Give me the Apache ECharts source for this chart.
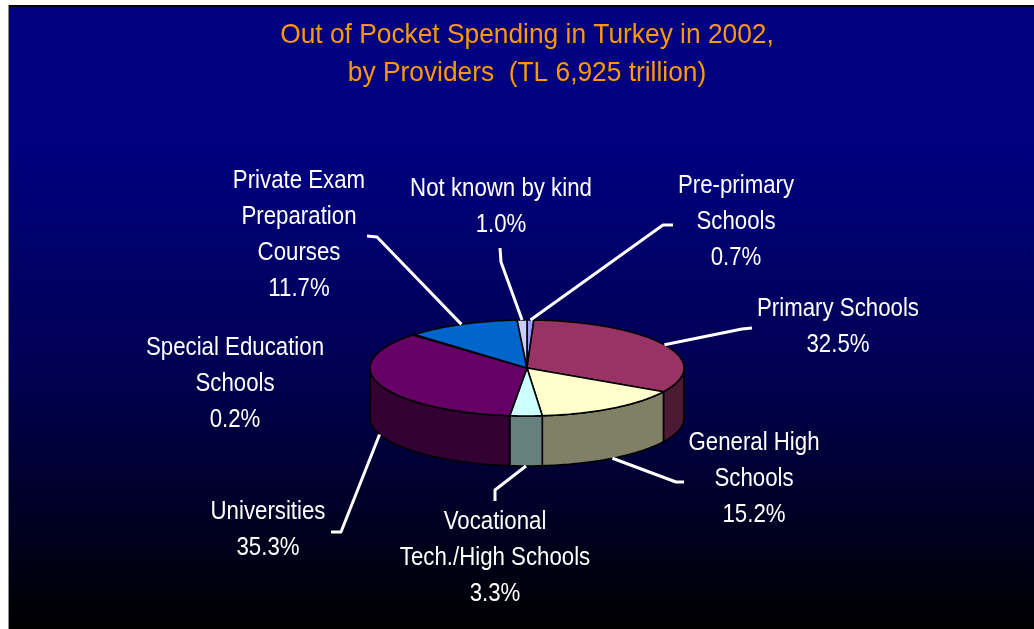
<!DOCTYPE html>
<html>
<head>
<meta charset="utf-8">
<script src="https://cdn.jsdelivr.net/npm/echarts@6/dist/echarts.min.js"></script>
<style>
  html, body { margin: 0; padding: 0; background: #ffffff; }
  #chart { position: absolute; left: 0; top: 0; width: 1034px; height: 629px; }
</style>
</head>
<body>
<div id="chart"></div>
<script>
// Out-of-pocket education spending by provider, Turkey 2002 (shares, %)
const providers = [
  'Pre-primary Schools',
  'Primary Schools',
  'General High Schools',
  'Vocational Tech./High Schools',
  'Universities',
  'Special Education Schools',
  'Private Exam Preparation Courses',
  'Not known by kind'
];
const shares = [0.7, 32.5, 15.2, 3.3, 35.3, 0.2, 11.7, 1.0];
const labelLines = [
  ['Pre-primary', 'Schools'],
  ['Primary Schools'],
  ['General High', 'Schools'],
  ['Vocational', 'Tech./High Schools'],
  ['Universities'],
  ['Special Education', 'Schools'],
  ['Private Exam', 'Preparation', 'Courses'],
  ['Not known by kind']
];
const titleLines = ['Out of Pocket Spending in Turkey in 2002,', 'by Providers  (TL 6,925 trillion)'];

// slice styling: top face colour, side wall colour
const sliceStyle = [
  { top: '#9999FF', side: '#4D4D80' },
  { top: '#993366', side: '#4D1A33' },
  { top: '#FFFFCC', side: '#808066' },
  { top: '#CCFFFF', side: '#668080' },
  { top: '#660066', side: '#330033' },
  { top: '#FF8080', side: '#804040' },
  { top: '#0066CC', side: '#003366' },
  { top: '#CCCCFF', side: '#666680' }
];

// label placement: centre of the text block and the elbow of the leader line
const labelLayout = [
  { x: 736, y: 222, leader: [[673, 225], [663, 225]] },
  { x: 838, y: 327, leader: [[752, 328], [742, 329]] },
  { x: 754, y: 479, leader: [[684, 482], [676, 482]] },
  { x: 495, y: 558, leader: [[495, 501], [495, 490]] },
  { x: 268, y: 530, leader: [[331, 532], [341, 532]] },
  { x: 235, y: 384, leader: null },
  { x: 299, y: 235, leader: [[367, 236], [377, 237]] },
  { x: 501, y: 207, leader: [[500, 248], [501, 262]] }
];

// projected pie geometry
const pie = { cx: 527, cy: 368, rx: 157, ry: 48, depth: 50 };
const FONT = '"Liberation Sans", Arial, sans-serif';
const LABEL_SQUEEZE = 0.89;   // narrow-face look for the labels
const TITLE_SQUEEZE = 0.94;

const total = shares.reduce((a, b) => a + b, 0);
const startShare = [];
shares.reduce((acc, v, i) => { startShare[i] = acc; return acc + v; }, 0);

function pt(theta, dy) {
  return [pie.cx + pie.rx * Math.sin(theta), pie.cy - pie.ry * Math.cos(theta) + (dy || 0)];
}
function arc(a0, a1, dy) {
  const n = Math.max(2, Math.ceil(Math.abs(a1 - a0) / 0.02));
  const out = [];
  for (let k = 0; k <= n; k++) out.push(pt(a0 + (a1 - a0) * k / n, dy));
  return out;
}

function renderSlice(params, api) {
  const i = params.dataIndex;
  const v = api.value(0);
  const a0 = startShare[i] / total * Math.PI * 2;
  const a1 = a0 + v / total * Math.PI * 2;
  const st = sliceStyle[i];
  const children = [];

  // side wall, visible on the front half of the disc
  const w0 = Math.max(a0, Math.PI / 2), w1 = Math.min(a1, Math.PI * 1.5);
  if (w1 > w0) {
    const pts = arc(w0, w1, 0).concat(arc(w1, w0, pie.depth));
    children.push({
      type: 'polygon', z2: 1,
      shape: { points: pts },
      style: { fill: st.side, stroke: '#000', lineWidth: 1.6, lineJoin: 'round' }
    });
  }

  // top face
  children.push({
    type: 'polygon', z2: 5,
    shape: { points: [[pie.cx, pie.cy]].concat(arc(a0, a1, 0)) },
    style: { fill: st.top, stroke: '#000', lineWidth: 1.6, lineJoin: 'round' }
  });

  // leader line to the slice's mid angle
  const lay = labelLayout[i];
  if (lay.leader) {
    const am = (a0 + a1) / 2;
    const front = am > Math.PI / 2 && am < Math.PI * 1.5;
    const end = pt(am, front ? pie.depth : 0);
    children.push({
      type: 'polyline', z2: 8,
      shape: { points: lay.leader.concat([end]) },
      style: { stroke: '#ffffff', lineWidth: 3, fill: null, lineJoin: 'round' }
    });
  }

  // label text
  const text = labelLines[i].concat([v.toFixed(1) + '%']).join('\n');
  children.push({
    type: 'text', z2: 9,
    x: lay.x, y: lay.y, scaleX: LABEL_SQUEEZE,
    style: {
      text: text, fill: '#ffffff', font: '25px ' + FONT,
      align: 'center', verticalAlign: 'middle', lineHeight: 36
    }
  });

  return { type: 'group', children: children };
}

const chart = echarts.init(document.getElementById('chart'), null, { renderer: 'canvas' });
chart.setOption({
  animation: false,
  backgroundColor: '#ffffff',
  graphic: [
    {
      type: 'rect', z: -10,
      shape: { x: 9, y: 7, width: 1025, height: 622 },
      style: {
        fill: new echarts.graphic.LinearGradient(0, 0, 0, 1, [
          { offset: 0, color: '#000080' },
          { offset: 0.22, color: '#000080' },
          { offset: 0.6, color: '#000050' },
          { offset: 1, color: '#000000' }
        ])
      }
    },
    { type: 'rect', z: -9, shape: { x: 8, y: 5, width: 1026, height: 2 }, style: { fill: '#000000' } },
    { type: 'rect', z: -9, shape: { x: 8, y: 5, width: 1, height: 624 }, style: { fill: '#8a8a8a' } },
    {
      type: 'text', z: 10,
      x: 527, y: 54, scaleX: TITLE_SQUEEZE,
      style: {
        text: titleLines.join('\n'), fill: '#FF9900', font: '28px ' + FONT,
        align: 'center', verticalAlign: 'middle', lineHeight: 38
      }
    }
  ],
  series: [{
    type: 'custom',
    coordinateSystem: 'none',
    renderItem: renderSlice,
    data: shares.map((v, i) => ({ name: providers[i], value: [v] }))
  }]
});
</script>
</body>
</html>
